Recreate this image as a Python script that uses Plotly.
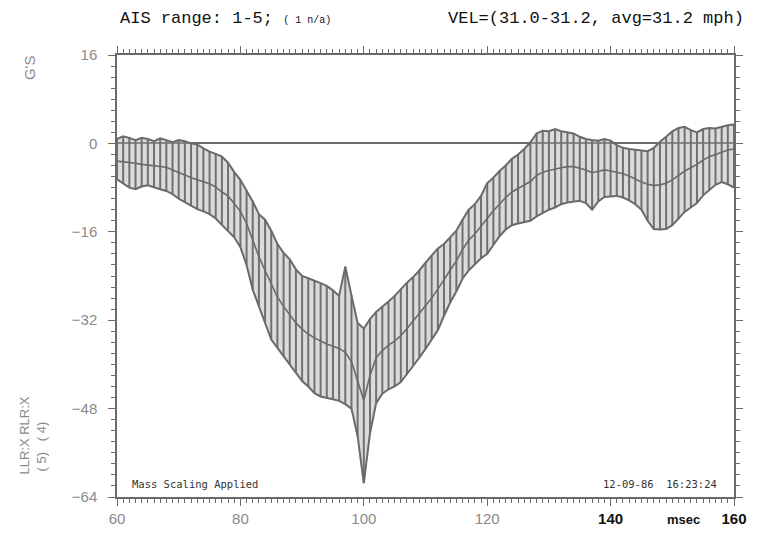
import plotly.graph_objects as go

# time axis (msec), 1 ms samples
t = list(range(60, 161))

upper = [0.8, 1.3, 1.0, 0.6, 1.0, 0.8, 0.4, 0.9, 0.6, 0.2,
         0.6, 0.4, 0.0, -0.2, -0.9, -1.5, -1.9, -2.4, -3.5, -5.2,
         -6.6, -8.5, -10.5, -12.8, -13.8, -15.8, -18.2, -19.8, -21.0, -22.8,
         -24.0, -24.4, -24.8, -25.3, -25.8, -26.6, -27.6, -22.3, -27.5, -32.5,
         -33.5, -31.8, -30.5, -29.6, -28.6, -27.6, -26.3, -25.2, -24.2, -23.0,
         -21.6, -20.4, -19.0, -18.2, -17.0, -15.8, -13.8, -12.0, -11.0, -9.5,
         -7.2, -6.2, -5.0, -4.0, -2.8, -2.0, -1.0, 0.2, 1.8, 2.3,
         2.2, 2.6, 2.2, 2.0, 1.8, 1.2, 0.8, 0.6, 0.5, 0.8,
         0.5, -0.3, -0.8, -1.0, -1.1, -1.3, -1.4, -0.8, 0.3, 1.2,
         2.2, 2.8, 3.0, 2.4, 2.0, 2.6, 2.8, 2.7, 3.0, 3.3,
         3.4]

lower = [-6.5, -7.2, -8.0, -8.3, -7.8, -7.6, -8.0, -8.3, -8.6, -9.2,
         -10.0, -10.6, -11.3, -11.9, -12.3, -12.8, -13.6, -14.7, -15.8, -17.0,
         -18.8, -22.0, -26.5, -29.5, -32.5, -35.5, -37.0, -38.5, -40.0, -41.5,
         -43.0, -44.0, -45.2, -45.8, -46.0, -46.3, -46.6, -47.2, -48.0, -53.0,
         -61.5, -52.5, -47.0, -45.3, -44.5, -44.0, -43.2, -41.8, -40.2, -38.8,
         -37.2, -35.5, -33.8, -31.2, -28.8, -26.8, -24.5, -23.0, -21.8, -20.8,
         -20.0, -18.3, -16.8, -15.6, -14.8, -14.5, -14.2, -14.0, -13.2, -12.6,
         -12.0, -11.6, -11.0, -10.7, -10.5, -10.4, -10.8, -12.0, -10.5, -9.7,
         -9.6, -9.5, -9.8, -10.3, -11.0, -12.0, -14.0, -15.5, -15.6, -15.5,
         -14.8, -13.6, -12.4, -11.6, -10.8, -9.4, -8.4, -7.5, -7.0, -7.4,
         -8.0]

mean = [-3.2, -3.3, -3.4, -3.6, -3.8, -3.9, -4.0, -4.1, -4.3, -4.8,
        -5.2, -5.7, -6.2, -6.6, -7.0, -7.3, -7.9, -8.8, -9.5, -10.8,
        -12.3, -14.5, -17.5, -20.5, -23.0, -25.5, -27.8, -29.5, -31.0, -32.5,
        -33.6, -34.5, -35.2, -35.8, -36.3, -36.7, -37.1, -37.8, -39.5, -43.0,
        -46.5, -42.0, -38.8, -37.5, -36.5, -35.8, -34.8, -33.5, -32.2, -30.9,
        -29.4, -28.0, -26.4, -24.7, -22.9, -21.3, -19.2, -17.5, -16.4, -15.1,
        -13.6, -12.2, -10.9, -9.8, -8.8, -8.2, -7.6, -6.9, -5.8, -5.2,
        -4.9, -4.6, -4.4, -4.2, -4.2, -4.5, -4.8, -5.3, -5.0, -4.8,
        -5.0, -5.2, -5.5, -5.9, -6.5, -7.0, -7.4, -7.6, -7.5, -7.2,
        -6.6, -5.8, -5.0, -4.4, -3.8, -3.0, -2.4, -2.0, -1.6, -1.2,
        -1.0]

y_ticks = [16, 0, -16, -32, -48, -64]
x_ticks = [60, 80, 100, 120, 140, 160]
x_ticktext = ["60", "80", "100", "120",
              "<b><span style='color:#111'>140</span></b>",
              "<b><span style='color:#111'>160</span></b>"]

LINE = "#6a6a6a"
fig = go.Figure()

# light band fill
fig.add_trace(go.Scatter(x=t, y=lower, mode="lines", line=dict(color=LINE, width=0),
                         showlegend=False, hoverinfo="skip"))
fig.add_trace(go.Scatter(x=t, y=upper, mode="lines", line=dict(color=LINE, width=0),
                         fill="tonexty", fillcolor="rgba(175,175,175,0.45)",
                         showlegend=False, hoverinfo="skip"))

# vertical hatch lines
hx, hy = [], []
for ti, lo, up in zip(t, lower, upper):
    hx += [ti, ti, None]
    hy += [lo, up, None]
fig.add_trace(go.Scatter(x=hx, y=hy, mode="lines", line=dict(color="#707070", width=2),
                         showlegend=False, hoverinfo="skip"))

# envelopes and mean
fig.add_trace(go.Scatter(x=t, y=upper, mode="lines", line=dict(color=LINE, width=2),
                         showlegend=False))
fig.add_trace(go.Scatter(x=t, y=lower, mode="lines", line=dict(color=LINE, width=2),
                         showlegend=False))
fig.add_trace(go.Scatter(x=t, y=mean, mode="lines", line=dict(color=LINE, width=1.6),
                         showlegend=False))

W, H = 759, 539
L, R, T, B = 117, 24, 55, 39
pw, ph = W - L - R, H - T - B


def px(x):
    return (x - L) / pw


def py(y):
    return (H - B - y) / ph


MONO = "Liberation Mono, DejaVu Sans Mono"
SMALL = "DejaVu Sans Mono"
TICKF = "Liberation Sans Narrow, Liberation Sans, Arial"

ann = [
    dict(x=px(118), y=py(18), text="AIS range: 1-5; <span style='font-size:10px'>( 1 n/a)</span>",
         xanchor="left", yanchor="middle", font=dict(family=MONO, size=17, color="#111")),
    dict(x=px(447), y=py(18), text="VEL=(31.0-31.2, avg=31.2 mph)",
         xanchor="left", yanchor="middle", font=dict(family=MONO, size=17, color="#111")),
    dict(x=px(130), y=py(487), text="Mass Scaling Applied",
         xanchor="left", yanchor="middle", font=dict(family=SMALL, size=10.5, color="#333")),
    dict(x=px(720), y=py(487), text="12-09-86  16:23:24",
         xanchor="right", yanchor="middle", font=dict(family=SMALL, size=10.5, color="#333")),
    dict(x=px(684), y=py(523), text="<b>msec</b>",
         xanchor="center", yanchor="middle", font=dict(family=TICKF, size=13, color="#111")),
    dict(x=px(30), y=py(68), text="G'S", textangle=-90,
         xanchor="center", yanchor="middle", font=dict(family=TICKF, size=15, color="#8a8a8a")),
    dict(x=px(24), y=py(438), text="LLR:X RLR:X", textangle=-90,
         xanchor="center", yanchor="middle", font=dict(family=TICKF, size=13, color="#8a8a8a")),
    dict(x=px(41), y=py(449), text="( 5)   ( 4)", textangle=-90,
         xanchor="center", yanchor="middle", font=dict(family=TICKF, size=13, color="#8a8a8a")),
]
for a in ann:
    a.update(xref="paper", yref="paper", showarrow=False)

fig.update_layout(
    width=W, height=H,
    margin=dict(l=L, r=R, t=T, b=B),
    paper_bgcolor="white", plot_bgcolor="white",
    annotations=ann,
    xaxis=dict(range=[60, 160], tickvals=x_ticks, ticktext=x_ticktext,
               showgrid=False, zeroline=False, showline=True, linecolor=LINE, linewidth=1.5,
               mirror="ticks", ticks="outside", ticklen=7, tickwidth=1.2, tickcolor=LINE,
               tickfont=dict(family=TICKF, size=15, color="#8a8a8a"),
               minor=dict(dtick=1, ticks="outside", ticklen=4, tickwidth=1, tickcolor=LINE,
                          showgrid=False)),
    yaxis=dict(range=[-64, 16], tickvals=y_ticks,
               showgrid=False, zeroline=True, zerolinecolor=LINE, zerolinewidth=1.6,
               showline=True, linecolor=LINE, linewidth=1.5,
               mirror="ticks", ticks="outside", ticklen=7, tickwidth=1.2, tickcolor=LINE,
               ticklabelstandoff=8,
               tickfont=dict(family=TICKF, size=15, color="#8a8a8a"),
               minor=dict(dtick=2, ticks="outside", ticklen=4, tickwidth=1, tickcolor=LINE,
                          showgrid=False)),
)

fig.write_html("out.html")
